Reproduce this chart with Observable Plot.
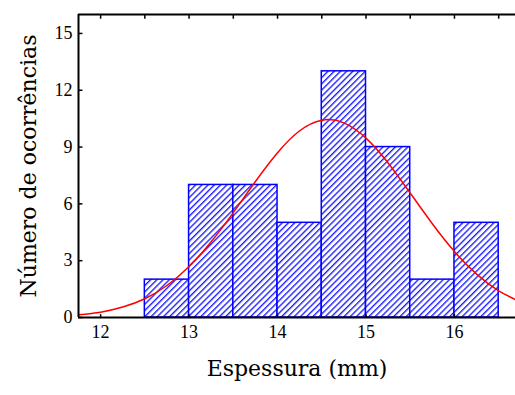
<!DOCTYPE html>
<html><head><meta charset="utf-8">
<script src="https://cdn.jsdelivr.net/npm/d3@7"></script>
<script src="https://cdn.jsdelivr.net/npm/@observablehq/plot@0.6"></script>
<style>
body{margin:0;background:#fff;}
svg{font-family:"Liberation Serif","Times New Roman",serif;}
g[aria-label="y-axis label"] text, g[aria-label="x-axis label"] text{font-size:22px;font-family:"DejaVu Serif",serif;}
</style>
</head><body><div id="chart"></div>
<script>
// Histogram bins (mm) and counts
const binStart = [12.5, 13.0, 13.5, 14.0, 14.5, 15.0, 15.5, 16.0];
const binEnd   = [13.0, 13.5, 14.0, 14.5, 15.0, 15.5, 16.0, 16.5];
const counts   = [2, 7, 7, 5, 13, 9, 2, 5];
// Fitted curve, values
const curveX = [11.75, 12.0, 12.25, 12.5, 12.75, 13.0, 13.25, 13.5, 13.75, 14.0, 14.25, 14.5, 14.75, 15.0, 15.25, 15.5, 15.75, 16.0, 16.25, 16.5, 16.75];
const curveY = [0.14, 0.28, 0.55, 0.99, 1.69, 2.69, 4.0, 5.54, 7.18, 8.7, 9.86, 10.42, 10.28, 9.47, 8.16, 6.57, 4.95, 3.48, 2.29, 1.41, 0.81];
const xTickLabels = [12, 13, 14, 15, 16];
const xMinorTicks = [12, 12.5, 13, 13.5, 14, 14.5, 15, 15.5, 16, 16.5];
const yTickLabels = [0, 3, 6, 9, 12, 15];

const bars = binStart.map((s, i) => ({x1: s, x2: binEnd[i], y: counts[i]}));
const curve = curveX.map((x, i) => ({x, y: curveY[i]}));
const xMin = 11.75, xMax = 16.69, yMin = 0, yMax = 16;

const plot = Plot.plot({
  width: 515, height: 395,
  marginLeft: 78, marginRight: 0, marginTop: 14, marginBottom: 78,
  style: {fontSize: "18px", background: "#fff", overflow: "visible"},
  x: {domain: [xMin, xMax]},
  y: {domain: [yMin, yMax]},
  marks: [
    Plot.rectY(bars, {x1: "x1", x2: "x2", y: "y", fill: "url(#hatch)", stroke: "#0000ff", strokeWidth: 1.5}),
    Plot.line(curve, {x: "x", y: "y", stroke: "#ff0000", strokeWidth: 1.5, curve: "natural"}),
    Plot.axisX({ticks: xTickLabels, tickFormat: d3.format("d"), tickSize: 0, tickPadding: 8, label: "Espessura (mm)", labelAnchor: "center", labelArrow: "none", labelOffset: 58}),
    Plot.axisY({ticks: yTickLabels, tickFormat: d3.format("d"), tickSize: 0, tickPadding: 6, label: "Número de ocorrências", labelAnchor: "center", labelArrow: "none", labelOffset: 58}),
    Plot.ruleX(xMinorTicks, {x: d => d, y1: yMax, y2: yMax - 0.25, stroke: "#000", strokeWidth: 1.5}),
    Plot.ruleX(xTickLabels, {x: d => d, y1: yMin, y2: yMin + 0.15, stroke: "#000", strokeWidth: 1.5}),
    Plot.ruleY(yTickLabels, {y: d => d, x1: xMin, x2: xMin + 0.05, stroke: "#000", strokeWidth: 1.5}),
    Plot.ruleX([xMin], {stroke: "#000", strokeWidth: 2}),
    Plot.ruleY([yMin, yMax], {stroke: "#000", strokeWidth: 2})
  ]
});
const ns = "http://www.w3.org/2000/svg";
const defs = document.createElementNS(ns, "defs");
defs.innerHTML = '<pattern id="hatch" patternUnits="userSpaceOnUse" width="4.4" height="4.4" patternTransform="rotate(45)"><rect width="4.4" height="4.4" fill="#fff"/><line x1="0.7" y1="0" x2="0.7" y2="4.4" stroke="#1010ff" stroke-width="1.3"/></pattern>';
plot.insertBefore(defs, plot.firstChild);
document.getElementById("chart").appendChild(plot);
</script>
</body></html>
